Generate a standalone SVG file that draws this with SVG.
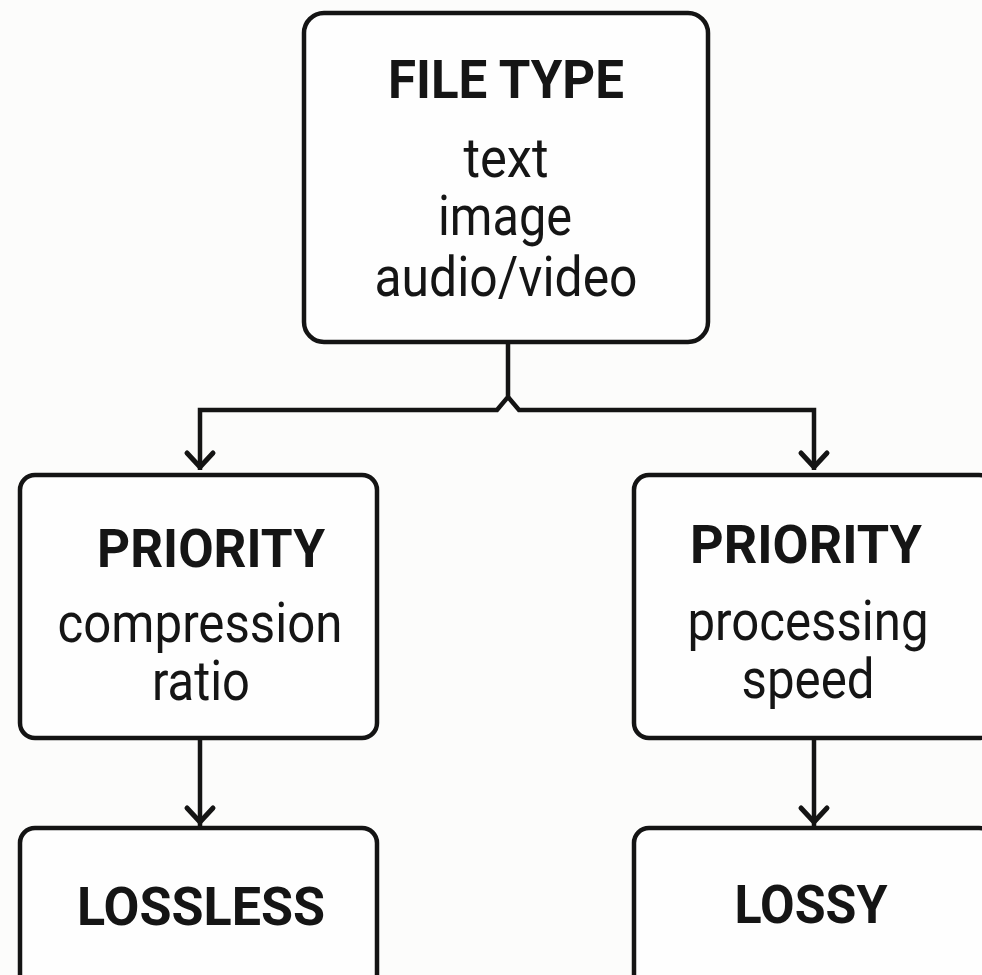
<svg xmlns="http://www.w3.org/2000/svg" width="982" height="975" viewBox="0 0 982 975">
<defs>
<style>
.box{fill:#fefefe;stroke:#141414;stroke-width:4.5}
.t{font-family:Roboto,"Liberation Sans",sans-serif;font-weight:700;font-size:54px;fill:#151515;text-anchor:middle}
.b{font-family:Roboto,"Liberation Sans",sans-serif;font-weight:400;font-size:55px;fill:#151515;text-anchor:middle}
.c{fill:none;stroke:#141414;stroke-width:4.5;stroke-linejoin:miter}
.h{fill:none;stroke:#141414;stroke-width:5;stroke-linecap:round;stroke-linejoin:round}
</style>
</defs>
<rect x="0" y="0" width="982" height="975" fill="#fcfcfb"/>
<g id="connectors">
<path class="c" d="M508,343 V397 L497,410 H200 V470"/>
<path class="c" d="M508,397 L519,410 H814 V470"/>
<path class="h" d="M187,453 L200,467 L213,453"/>
<path class="h" d="M801,453 L814,467 L827,453"/>
<path class="c" d="M200,738 V826"/>
<path class="h" d="M187,808 L200,822 L213,808"/>
<path class="c" d="M814,738 V826"/>
<path class="h" d="M801,808 L814,822 L827,808"/>
</g>
<g id="file-type">
<rect class="box" x="304" y="13" width="404" height="329" rx="20"/>
<text class="t" x="506" y="98" textLength="236" lengthAdjust="spacingAndGlyphs">FILE TYPE</text>
<text class="b" x="506" y="177" textLength="85" lengthAdjust="spacingAndGlyphs">text</text>
<text class="b" x="505" y="235" textLength="134" lengthAdjust="spacingAndGlyphs">image</text>
<text class="b" x="506" y="296" textLength="263" lengthAdjust="spacingAndGlyphs">audio/video</text>
</g>
<g id="priority-compression">
<rect class="box" x="20" y="475" width="357" height="263" rx="15"/>
<text class="t" x="211" y="567" textLength="228" lengthAdjust="spacingAndGlyphs">PRIORITY</text>
<text class="b" x="200" y="642" textLength="285" lengthAdjust="spacingAndGlyphs">compression</text>
<text class="b" x="201" y="700" textLength="98" lengthAdjust="spacingAndGlyphs">ratio</text>
</g>
<g id="priority-speed">
<rect class="box" x="634" y="475" width="360" height="263" rx="15"/>
<text class="t" x="806" y="563" textLength="232" lengthAdjust="spacingAndGlyphs">PRIORITY</text>
<text class="b" x="808" y="640" textLength="241" lengthAdjust="spacingAndGlyphs">processing</text>
<text class="b" x="808" y="698" textLength="133" lengthAdjust="spacingAndGlyphs">speed</text>
</g>
<g id="lossless">
<rect class="box" x="20" y="828" width="357" height="170" rx="15"/>
<text class="t" x="201" y="925" textLength="248" lengthAdjust="spacingAndGlyphs">LOSSLESS</text>
</g>
<g id="lossy">
<rect class="box" x="634" y="828" width="360" height="170" rx="15"/>
<text class="t" x="811" y="923" textLength="153" lengthAdjust="spacingAndGlyphs">LOSSY</text>
</g>
</svg>
